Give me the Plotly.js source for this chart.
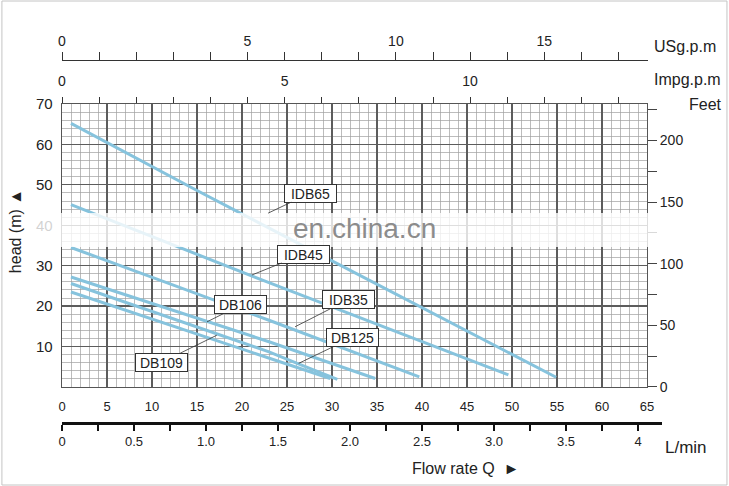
<!DOCTYPE html>
<html>
<head>
<meta charset="utf-8">
<script src="https://cdn.plot.ly/plotly-3.0.1.min.js"></script>
<style>
  html, body { margin: 0; padding: 0; background: #fff; }
  #chart { width: 729px; height: 486px; }
</style>
</head>
<body>
<div id="chart"></div>
<script>
// tick labels
const flowTicks = [0, 5, 10, 15, 20, 25, 30, 35, 40, 45, 50, 55, 60, 65];
const headTicks = [0, 10, 20, 30, 40, 50, 60, 70];
const headLabels = ["", "10", "20", "30", "40", "50", "60", "70"];
const feetTicks = [0, 25, 50, 75, 100, 125, 150, 175, 200, 225];
const feetLabels = ["0", "", "50", "", "100", "", "150", "", "200", ""];
const m3Ticks = [0, 0.25, 0.5, 0.75, 1, 1.25, 1.5, 1.75, 2, 2.25, 2.5, 2.75, 3, 3.25, 3.5, 3.75, 4];
const m3Labels = ["0", "", "0.5", "", "1.0", "", "1.5", "", "2.0", "", "2.5", "", "3.0", "", "3.5", "", "4"];
const usLabels = ["0", "", "", "", "", "5", "", "", "", "10", "", "", "", "15", "", ""];
const impLabels = ["0", "", "", "", "", "", "5", "", "", "", "", "10", "", "", "", ""];

// pump curves, flow in L/min, head in m
const names = ["IDB65", "IDB45", "IDB35", "DB106", "DB125", "DB109"];
const flowIDB65 = [1.0, 15, 29.3, 54.9];
const headIDB65 = [65.2, 48.6, 32.0, 2.4];
const flowIDB45 = [1.0, 23, 49.6];
const headIDB45 = [45.1, 25.8, 3.0];
const flowIDB35 = [1.0, 23, 39.7];
const headIDB35 = [34.5, 16.5, 2.5];
const flowDB106 = [1.0, 16, 23, 34.8];
const headDB106 = [27.2, 16.3, 11.2, 2.1];
const flowDB125 = [1.0, 23, 26.2, 30.6];
const headDB125 = [25.6, 8.7, 5.8, 1.9];
const flowDB109 = [1.0, 23, 29.8];
const headDB109 = [23.5, 7.1, 2.1];

const flows = [flowIDB65, flowIDB45, flowIDB35, flowDB106, flowDB125, flowDB109];
const heads = [headIDB65, headIDB45, headIDB35, headDB106, headDB125, headDB109];

const curveColor = "#86c3dd";
const numFont = "Liberation Sans Narrow, Liberation Sans, Arial, sans-serif";
const boxFont = "Liberation Sans, Arial, sans-serif";

let data = names.map((n, i) => ({
    x: flows[i],
    y: heads[i],
    name: n,
    mode: "lines",
    type: "scatter",
    line: { color: curveColor, width: 3 },
    hoverinfo: "skip"
}));

// the extra scales only get drawn when a trace uses them; these draw nothing
const nulls = arr => arr.map(() => null);
data.push(
    { x: nulls(feetTicks), y: feetTicks, xaxis: "x", yaxis: "y2", mode: "none", type: "scatter", hoverinfo: "skip" },
    { x: m3Ticks, y: nulls(m3Ticks), xaxis: "x2", yaxis: "y3", mode: "none", type: "scatter", hoverinfo: "skip" },
    { x: usLabels.map((_, i) => i), y: nulls(usLabels), xaxis: "x3", yaxis: "y4", mode: "none", type: "scatter", hoverinfo: "skip" },
    { x: impLabels.map((_, i) => i), y: nulls(impLabels), xaxis: "x4", yaxis: "y", mode: "none", type: "scatter", hoverinfo: "skip" }
);

const hidden = { visible: false, showgrid: false, zeroline: false, fixedrange: true };

// plot area: x 62..647 px, y 104..387 px
let layout = {
    width: 729,
    height: 486,
    margin: { l: 62, r: 60, t: 30, b: 10 },
    paper_bgcolor: "#fff",
    plot_bgcolor: "rgba(0,0,0,0)",
    showlegend: false,
    font: { family: numFont, size: 13, color: "#222" },
    xaxis: {
        domain: [0, 0.9638],
        range: [0, 65],
        tickmode: "array",
        tickvals: flowTicks,
        ticktext: flowTicks.map(String),
        ticks: "",
        ticklabelstandoff: 7,
        showgrid: true,
        gridcolor: "#5c5c5c",
        gridwidth: 1.3,
        minor: { dtick: 1, showgrid: true, gridcolor: "#a0a0a0", gridwidth: 0.7 },
        showline: true,
        linecolor: "#555",
        linewidth: 1.3,
        mirror: true,
        zeroline: false
    },
    yaxis: {
        domain: [0.1996, 0.8341],
        range: [0, 70],
        tickmode: "array",
        tickvals: headTicks,
        ticktext: headLabels,
        ticks: "",
        ticklabelstandoff: 5,
        tickfont: { size: 15 },
        showgrid: true,
        gridcolor: "#5c5c5c",
        gridwidth: 1.3,
        minor: { dtick: 2, showgrid: true, gridcolor: "#a0a0a0", gridwidth: 0.7 },
        showline: true,
        linecolor: "#555",
        linewidth: 1.3,
        mirror: true,
        zeroline: false
    },
    yaxis2: {
        overlaying: "y",
        side: "right",
        anchor: "x",
        range: [0, 70 * 3.28084],
        tickmode: "array",
        tickvals: feetTicks,
        ticktext: feetLabels,
        ticks: "outside",
        ticklen: 9,
        tickwidth: 1,
        tickcolor: "#444",
        tickfont: { size: 14 },
        showgrid: false,
        zeroline: false,
        showline: false
    },
    // second flow row: thick line at y = 424 px
    yaxis3: Object.assign({ domain: [0.1215, 0.15], range: [0, 1] }, hidden),
    xaxis2: {
        domain: [0, 0.9885],
        anchor: "y3",
        side: "bottom",
        range: [0, 600 / 144],
        tickmode: "array",
        tickvals: m3Ticks,
        ticktext: m3Labels,
        ticks: "outside",
        ticklen: 6,
        tickwidth: 1.3,
        tickcolor: "#111",
        ticklabelstandoff: 0,
        showline: true,
        linewidth: 3,
        linecolor: "#111",
        showgrid: false,
        zeroline: false
    },
    // US gallons row: line at y = 61 px
    yaxis4: Object.assign({ domain: [0.90, 0.9305], range: [0, 1] }, hidden),
    xaxis3: {
        domain: [0, 0.9654],
        anchor: "y4",
        side: "top",
        range: [0, 586 / 37.1],
        tickmode: "array",
        tickvals: usLabels.map((_, i) => i),
        ticktext: usLabels,
        ticks: "outside",
        ticklen: 8,
        tickcolor: "#333",
        tickfont: { size: 14 },
        showline: true,
        linecolor: "#333",
        linewidth: 1.3,
        showgrid: false,
        zeroline: false
    },
    // imperial gallons row: ticks on the top of the grid
    xaxis4: {
        overlaying: "x",
        anchor: "y",
        side: "top",
        range: [0, 585 / 37.1],
        tickmode: "array",
        tickvals: impLabels.map((_, i) => i),
        ticktext: impLabels,
        ticks: "outside",
        ticklen: 6,
        tickcolor: "#333",
        tickfont: { size: 14 },
        ticklabelstandoff: 5,
        showline: false,
        showgrid: false,
        zeroline: false
    },
    shapes: [
        // watermark band
        { type: "rect", xref: "paper", yref: "paper", x0: -0.102, x1: 1.099, y0: 0.5135, y1: 0.5897,
          fillcolor: "rgba(255,255,255,0.8)", line: { width: 0 }, layer: "above" },
        // picture frame
        { type: "rect", xref: "paper", yref: "paper", x0: -0.099, x1: 1.0955, y0: -0.0202, y1: 1.0650,
          line: { color: "#c4c4c4", width: 1 }, fillcolor: "rgba(0,0,0,0)", layer: "above" }
    ],
    annotations: []
};

const axisText = (text, x, y, size, extra) => Object.assign({
    text: text, xref: "paper", yref: "paper", x: x, y: y, showarrow: false,
    xanchor: "left", yanchor: "middle", font: { size: size, family: numFont, color: "#222" }
}, extra || {});

layout.annotations.push(
    axisText("USg.p.m", 0.972, 0.962, 16),
    axisText("Impg.p.m", 0.972, 0.888, 16),
    axisText("Feet", 1.0297, 0.832, 16),
    axisText("L/min", 0.990, 0.0628, 17),
    axisText("Flow rate Q  \u25BA", 0.664, 0.0157, 16, { xanchor: "center" }),
    axisText("head (m) \u25B2", -0.0774, 0.549, 16, { xanchor: "center", textangle: -90 }),
    axisText("en.china.cn", 0.499, 0.5556, 28, { xanchor: "center", font: { size: 28, family: "Liberation Sans, Arial, sans-serif", color: "#8c8c8c" } })
);

// curve labels with leader lines: [name, flow, head, dx, dy]
const labelSpots = [
    ["IDB65", 22.9, 43.0, 42, -20],
    ["IDB45", 21.1, 27.7, 52, -21],
    ["DB106", 16.1, 16.1, 34, -17],
    ["DB109", 17.2, 12.8, -55, 27],
    ["IDB35", 25.9, 14.9, 53, -27],
    ["DB125", 26.3, 5.85, 54, -26]
];
labelSpots.forEach(s => layout.annotations.push({
    text: s[0], x: s[1], y: s[2], xref: "x", yref: "y",
    ax: s[3], ay: s[4], showarrow: true, arrowhead: 0, arrowwidth: 0.8, arrowcolor: "#333",
    bgcolor: "#fff", bordercolor: "#333", borderwidth: 1, borderpad: 2,
    width: 47, height: 13,
    font: { size: 14, family: boxFont, color: "#222" }
}));

Plotly.newPlot("chart", data, layout, { displayModeBar: false, staticPlot: true });
</script>
</body>
</html>
